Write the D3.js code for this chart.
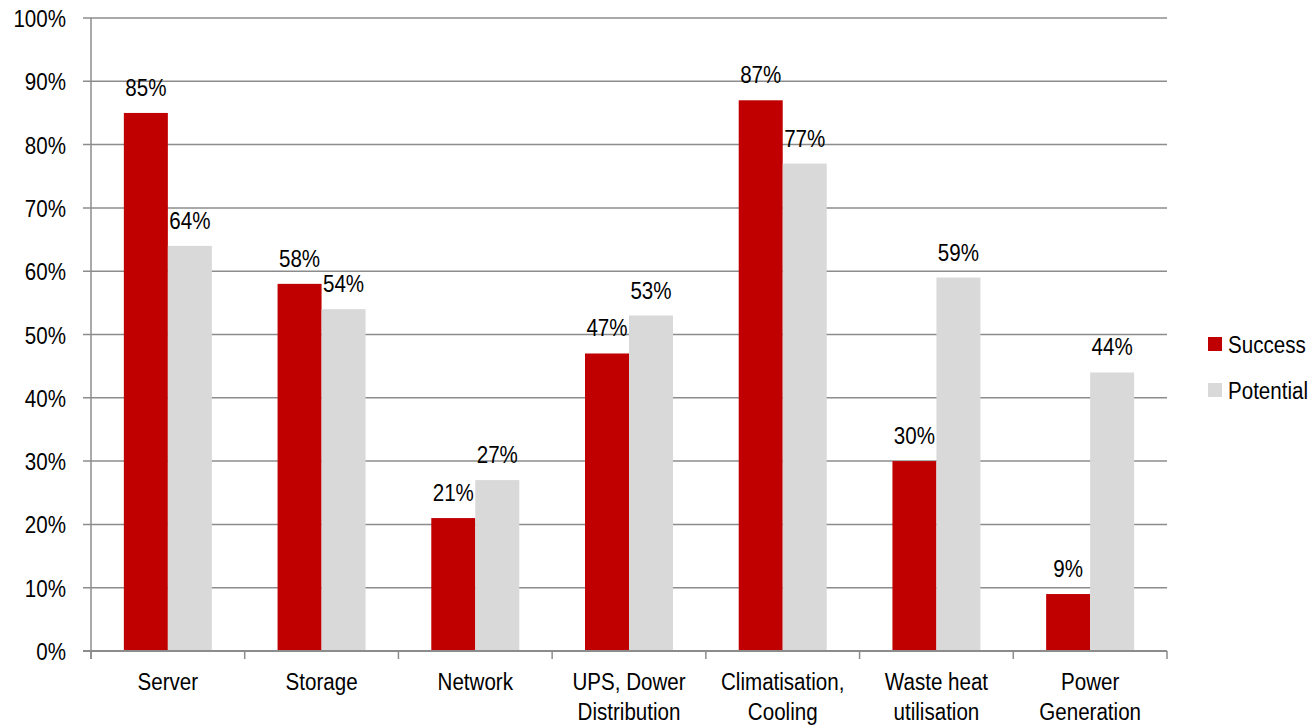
<!DOCTYPE html>
<html><head><meta charset="utf-8">
<script src="https://cdn.jsdelivr.net/npm/d3@7"></script>
<style>body{margin:0;background:#fff}svg{display:block}text{font-family:"Liberation Sans",Arial,sans-serif;fill:#000}</style>
</head><body><svg id="c" width="1316" height="727"></svg>
<script>
const categories = [["Server"],["Storage"],["Network"],["UPS, Dower","Distribution"],["Climatisation,","Cooling"],["Waste heat","utilisation"],["Power","Generation"]];
const seriesNames = ["Success","Potential"];
const success = [85,58,21,47,87,30,9];
const potential = [64,54,27,53,77,59,44];
const yTicks = [0,10,20,30,40,50,60,70,80,90,100];
const colors = ["#C00000","#D9D9D9"];

const FS = 23.5, SX = 0.875;
const tr = (px,py)=>`translate(${px},${py}) scale(${SX},1)`;
const svg = d3.select("#c");
const L=91, R=1167, T=18, B=651;
const x = d3.scaleBand().domain(d3.range(categories.length)).range([L,R]).paddingInner(0).paddingOuter(0);
const y = d3.scaleLinear().domain([0,100]).range([B,T]);
const bw = 44;

svg.append("g").selectAll("line").data(yTicks).join("line")
 .attr("x1",83).attr("x2",R).attr("y1",d=>y(d)).attr("y2",d=>y(d))
 .attr("stroke","#8c8c8c").attr("stroke-width",1.5);
svg.append("g").selectAll("text").data(yTicks).join("text")
 .attr("transform",d=>tr(66,y(d)+9)).attr("text-anchor","end").attr("font-size",FS)
 .text(d=>d+"%");

const data = [success, potential];
data.forEach((arr,si)=>{
 const g = svg.append("g");
 g.selectAll("rect").data(arr).join("rect")
  .attr("x",(d,i)=>x(i)+x.bandwidth()/2-bw+si*bw).attr("width",bw)
  .attr("y",d=>y(d)).attr("height",d=>B-y(d)).attr("fill",colors[si]);
 g.selectAll("text").data(arr).join("text")
  .attr("transform",(d,i)=>tr(x(i)+x.bandwidth()/2-bw/2+si*bw, y(d)-17))
  .attr("text-anchor","middle").attr("font-size",FS).text(d=>d+"%");
});

svg.append("line").attr("x1",L).attr("x2",L).attr("y1",T).attr("y2",659).attr("stroke","#8c8c8c").attr("stroke-width",1.5);
svg.append("line").attr("x1",83).attr("x2",R).attr("y1",B).attr("y2",B).attr("stroke","#8c8c8c").attr("stroke-width",2);
svg.append("g").selectAll("line").data(d3.range(categories.length+1)).join("line")
 .attr("x1",i=>L+i*x.bandwidth()).attr("x2",i=>L+i*x.bandwidth()).attr("y1",B).attr("y2",659)
 .attr("stroke","#8c8c8c").attr("stroke-width",1.5);

const cl = svg.append("g").selectAll("text").data(categories).join("text")
 .attr("text-anchor","middle").attr("font-size",FS)
 .attr("transform",(d,i)=>tr(x(i)+x.bandwidth()/2,690));
cl.selectAll("tspan").data(d=>d).join("tspan").attr("x",0).attr("dy",(d,j)=>j?30:0).text(d=>d);

const lg = svg.append("g").selectAll("g").data(seriesNames).join("g")
 .attr("transform",(d,i)=>`translate(1208,${337+i*46})`);
lg.append("rect").attr("width",14).attr("height",14).attr("fill",(d,i)=>colors[i]);
lg.append("text").attr("transform",tr(20,16)).attr("font-size",FS).text(d=>d);
</script></body></html>
